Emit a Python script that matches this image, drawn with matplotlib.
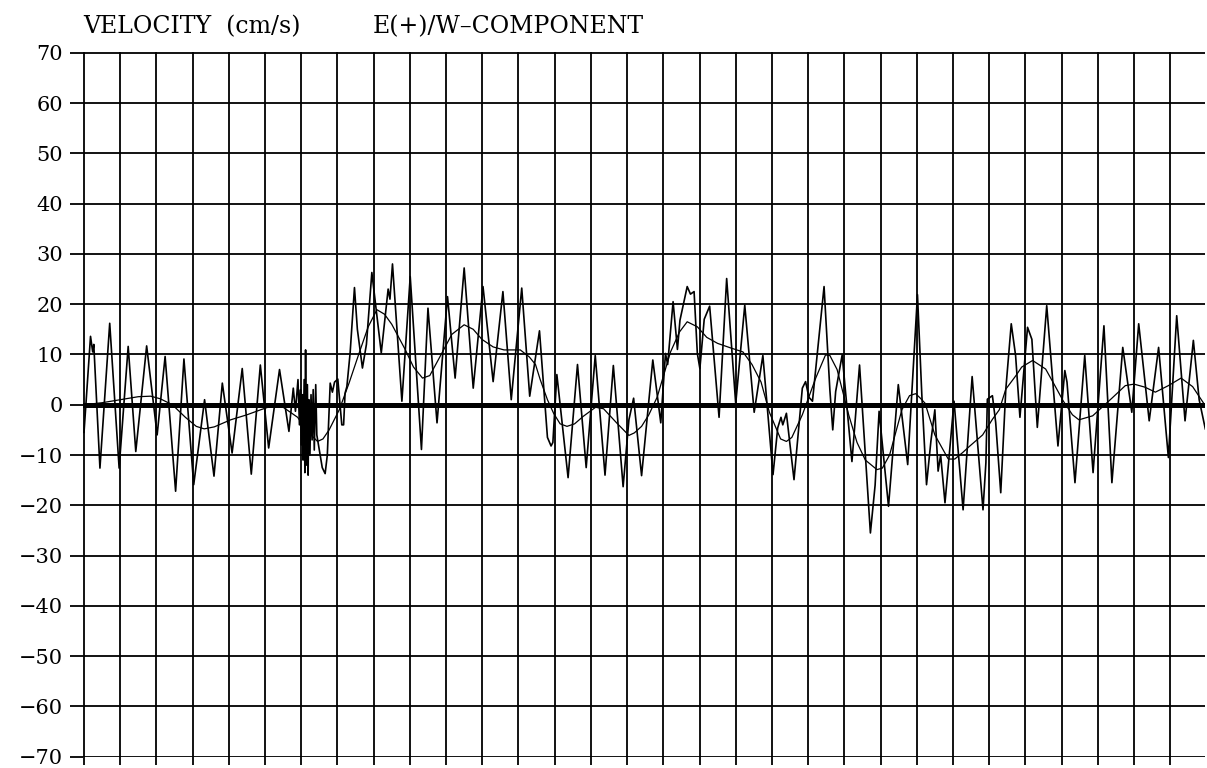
import matplotlib
matplotlib.use("Agg")
import matplotlib.pyplot as plt
from matplotlib.ticker import FixedLocator

# ---- data (time in days, velocity in cm/s) ----
raw_day = [0.00, 0.18, 0.24, 0.27, 0.44, 0.71, 0.97, 1.22, 1.43, 1.73, 2.02, 2.24, 2.53, 2.76,
           3.03, 3.33, 3.59, 3.82, 4.09, 4.37, 4.62, 4.87, 5.10, 5.40, 5.66, 5.78, 5.84, 5.91,
           5.95, 5.98, 6.00, 6.03, 6.05, 6.08, 6.10, 6.12, 6.14, 6.17, 6.19, 6.21, 6.24, 6.27,
           6.30, 6.33, 6.36, 6.40, 6.43, 6.50, 6.58, 6.66, 6.72, 6.80, 6.86, 6.92, 7.01, 7.12,
           7.17, 7.21, 7.26, 7.35, 7.47, 7.55, 7.69, 7.80, 7.95, 8.21, 8.40, 8.45, 8.52, 8.78,
           9.01, 9.32, 9.50, 9.75, 10.04, 10.25, 10.50, 10.75, 11.02, 11.30, 11.57, 11.80,
           12.09, 12.31, 12.58, 12.80, 12.90, 12.95, 13.06, 13.37, 13.63, 13.87, 14.12, 14.39,
           14.62, 14.89, 15.05, 15.18, 15.40, 15.71, 15.93, 16.06, 16.12, 16.27, 16.39, 16.46,
           16.66, 16.75, 16.85, 16.94, 17.01, 17.13, 17.28, 17.54, 17.75, 18.00, 18.25, 18.51,
           18.75, 19.03, 19.16, 19.25, 19.30, 19.40, 19.61, 19.84, 19.93, 20.02, 20.12, 20.25,
           20.44, 20.60, 20.68, 20.76, 20.94, 21.21, 21.42, 21.72, 21.85, 21.96, 22.22, 22.49,
           22.75, 23.02, 23.14, 23.27, 23.39, 23.50, 23.59, 23.66, 23.78, 24.03, 24.28, 24.53,
           24.83, 24.91, 24.95, 25.09, 25.18, 25.32, 25.46, 25.61, 25.73, 25.85, 26.06, 26.18,
           26.33, 26.59, 26.90, 27.09, 27.15, 27.37, 27.64, 27.87, 28.17, 28.39, 28.69, 28.94,
           29.13, 29.42, 29.68, 29.95, 30.18, 30.41, 30.64, 30.80, 30.97]
raw_vel = [-5.5, 13.6, 10.5, 12.0, -12.6, 16.2, -12.6, 11.6, -9.3, 11.7, -6.0, 9.6, -17.2, 9.1,
           -15.9, 1.0, -14.2, 4.3, -9.6, 7.2, -13.8, 7.9, -8.6, 7.0, -5.3, 3.3, -1.3, 5.0,
           -4.0, 3.0, -8.0, 2.0, -11.0, 5.0, -13.5, 10.9, -12.0, 4.0, -14.0, 1.0, -10.0, 2.0,
           -7.0, 3.0, -9.0, 4.0, -6.0, -9.0, -12.5, -13.7, -10.0, 4.3, 2.5, 4.5, 5.1, -4.0,
           -4.0, 2.3, 3.6, 10.3, 23.3, 15.0, 7.3, 12.0, 26.3, 10.3, 23.0, 21.0, 28.0, 0.7,
           25.5, -8.9, 19.2, -3.6, 21.5, 5.3, 27.2, 3.3, 23.5, 4.6, 22.5, 1.0,
           23.2, 1.7, 14.7, -6.5, -8.2, -7.5, 6.0, -14.5, 8.0, -12.5, 9.8, -14.0,
           7.8, -16.3, -3.0, 1.3, -14.1, 8.9, -3.6, 10.2, 8.0, 20.5, 11.0, 16.8,
           23.5, 22.0, 22.5, 10.2, 7.2, 17.0, 19.6, -2.5, 25.1, 0.2, 19.8, -1.5,
           9.8, -13.9, -4.6, -2.5, -4.0, -1.7, -14.9, 3.3, 4.6, 1.5, 0.7, 9.9,
           23.5, 3.0, -5.0, 2.6, 9.9, -11.3, 7.9, -25.5, -16.0, -1.3, -20.2, 4.0,
           -11.9, 21.9, 2.0, -15.9, -7.3, -1.0, -13.2, -10.0, -19.5, 0.7, -20.9, 5.6,
           -20.9, -11.5, 1.1, 1.8, -3.5, -17.5, 3.1, 16.1, 9.8, -2.5, 15.4, 13.0,
           -4.5, 19.7, -8.2, 6.8, 4.5, -15.5, 9.8, -13.5, 15.7, -15.5, 11.4, -1.5,
           16.1, -3.2, 11.4, -10.5, 17.7, -3.2, 12.8, 1.0, -4.8]

smooth_day = [0.0, 0.5, 1.0, 1.5, 1.84, 2.1, 2.44, 2.8, 3.1, 3.32, 3.6, 4.05, 4.5, 4.88, 5.2,
              5.5, 5.9, 6.2, 6.45, 6.6, 6.77, 7.05, 7.32, 7.6, 7.85, 8.09, 8.3, 8.5, 8.87,
              9.1, 9.35, 9.55, 9.79, 10.16, 10.5, 10.75, 10.99, 11.3, 11.6, 12.05, 12.3,
              12.47, 12.6, 12.8, 12.97, 13.15, 13.34, 13.55, 13.79, 14.13, 14.35, 14.71,
              15.05, 15.2, 15.4, 15.6, 15.83, 16.2, 16.45, 16.66, 16.94, 17.2, 17.5, 17.86,
              18.2, 18.45, 18.7, 18.93, 19.24, 19.4, 19.55, 19.84, 20.21, 20.48, 20.6, 20.8,
              21.12, 21.35, 21.58, 21.9, 22.05, 22.25, 22.59, 22.8, 22.97, 23.1, 23.23, 23.5,
              23.87, 24.05, 24.27, 24.42, 24.82, 25.09, 25.28, 25.46, 25.74, 25.9, 26.2,
              26.56, 26.8, 27.05, 27.3, 27.48, 27.86, 28.39, 28.76, 29.0, 29.3, 29.59, 29.95,
              30.3, 30.62, 30.97]
smooth_vel = [0.0, 0.4, 1.0, 1.6, 1.7, 1.2, 0.0, -2.5, -4.3, -4.8, -4.4, -3.0, -2.0, -1.0, -0.2,
              -0.5, -2.5, -5.5, -7.3, -6.8, -5.0, -1.0, 4.3, 10.3, 15.5, 18.9, 18.0, 16.0, 11.0,
              7.5, 5.3, 5.8, 9.0, 14.0, 15.9, 15.0, 13.0, 11.5, 10.9, 10.9, 9.5,
              8.0, 5.0, 1.0, -1.7, -3.8, -4.3, -3.8, -2.3, -0.5, -0.8, -3.6,
              -6.1, -5.6, -4.3, -2.0, 1.5, 10.5, 14.5, 16.5, 15.5, 13.4, 12.2, 11.3,
              10.5, 8.0, 4.5, -1.5, -6.8, -7.3, -6.5, -2.0, 5.3, 9.9, 9.8, 7.0,
              -2.0, -7.5, -11.0, -12.9, -12.6, -10.0, -1.0, 1.8, 2.2, 1.3, 0.3, -6.0,
              -10.8, -10.8, -9.5, -8.5, -6.0, -2.9, -1.0, 3.1, 5.8, 7.5, 8.8,
              7.1, 4.0, 0.7, -2.0, -3.0, -2.2, 1.3, 3.8, 4.1, 3.5, 2.5, 3.8,
              5.3, 3.6, -0.2]

y_ticks = [70, 60, 50, 40, 30, 20, 10, 0, -10, -20, -30, -40, -50, -60, -70]
x_ticks = list(range(0, 31))
title_left = "VELOCITY  (cm/s)"
title_right = "E(+)/W\u2013COMPONENT"

# ---- figure ----
plt.rcParams['font.family'] = ['DejaVu Serif']
fig = plt.figure(figsize=(12.07, 7.68), dpi=100)
ax = fig.add_axes([0.069, 0.0137, 0.929, 0.9186])

ax.set_xlim(-0.02, 30.95)
ax.set_ylim(-70.15, 70.15)

for s in ax.spines.values():
    s.set_visible(False)

ax.xaxis.set_major_locator(FixedLocator(x_ticks))
ax.yaxis.set_major_locator(FixedLocator(y_ticks))
ax.set_yticklabels([str(v).replace('-', '\u2212') for v in y_ticks], fontsize=15)
ax.set_xticklabels([])
ax.grid(True, color='black', linewidth=1.3)
ax.tick_params(axis='y', direction='out', length=9.5, width=1.3, pad=5, colors='black')
ax.tick_params(axis='x', direction='out', length=6, width=1.3, colors='black')

ax.axhline(0, color='black', linewidth=3.6, zorder=3)
ax.plot(smooth_day, smooth_vel, color='black', linewidth=0.9, zorder=4)
ax.plot(raw_day, raw_vel, color='black', linewidth=1.2, zorder=5)

fig.text(0.069, 0.965, title_left, fontsize=17, ha='left', va='center')
fig.text(0.309, 0.965, title_right, fontsize=17, ha='left', va='center')

fig.savefig("out.png", dpi=100)
